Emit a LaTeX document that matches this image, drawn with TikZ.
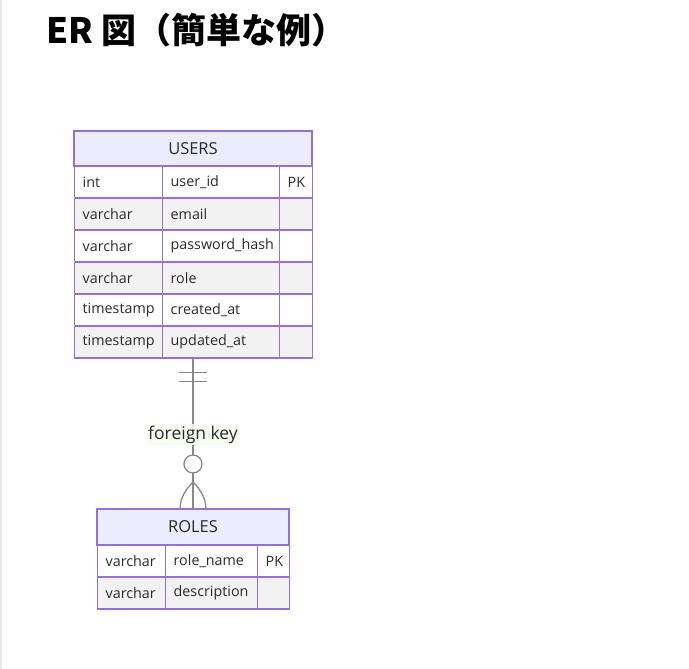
\documentclass[tikz,border=0pt]{standalone}
\usepackage{fontspec}
\setmainfont{Open Sans}
\newfontfamily\cjk{Noto Sans CJK JP}
\definecolor{erborder}{HTML}{9370DB}
\definecolor{erhead}{HTML}{ECECFF}
\definecolor{errow}{HTML}{F2F2F2}
\definecolor{erline}{HTML}{888888}
\definecolor{ertext}{HTML}{2A2A2A}
\definecolor{erlabel}{HTML}{F8FCEE}
\tikzset{
  cell/.style={draw=erborder,line width=1.4pt,fill=white,minimum height=32pt,
    inner xsep=8pt,align=left,anchor=west,text=ertext,font=\fontsize{14.3}{17}\selectfont},
  odd/.style={cell,fill=white},
  even/.style={cell,fill=errow},
  head/.style={draw=erborder,line width=1.4pt,fill=erhead,text=ertext,
    font=\fontsize{16.5}{19}\selectfont,inner sep=0pt},
  rel/.style={draw=erline,line width=1.3pt}
}
\begin{document}
\begin{tikzpicture}[x=1pt,y=-1pt]
      \useasboundingbox (0,0) rectangle (689,669);
      \draw[gray!18,line width=1.5pt] (1,0) -- (1,669);
      \node[anchor=base west,inner sep=0pt,font=\cjk\bfseries\fontsize{35}{40}\selectfont] (title) at (46,43.5) {ER 図（簡単な例）};
      % USERS
      \node[head,minimum width=238pt,minimum height=35pt] (users) at (193,148.5) {USERS};
      \draw
        (74,182) node[odd,text width=72pt] (u1t) {int}
        (162,182) node[odd,text width=101pt] (u1n) {user\_id}
        (279,182) node[odd,text width=17pt] (u1k) {PK}
        (74,214) node[even,text width=72pt] (u2t) {varchar}
        (162,214) node[even,text width=101pt] (u2n) {email}
        (279,214) node[even,text width=17pt] (u2k) {}
        (74,246) node[odd,text width=72pt] (u3t) {varchar}
        (162,246) node[odd,text width=101pt] (u3n) {password\_hash}
        (279,246) node[odd,text width=17pt] (u3k) {}
        (74,278) node[even,text width=72pt] (u4t) {varchar}
        (162,278) node[even,text width=101pt] (u4n) {role}
        (279,278) node[even,text width=17pt] (u4k) {}
        (74,310) node[odd,text width=72pt] (u5t) {timestamp}
        (162,310) node[odd,text width=101pt] (u5n) {created\_at}
        (279,310) node[odd,text width=17pt] (u5k) {}
        (74,342) node[even,text width=72pt] (u6t) {timestamp}
        (162,342) node[even,text width=101pt] (u6n) {updated\_at}
        (279,342) node[even,text width=17pt] (u6k) {};
      % ROLES
      \node[head,minimum width=192pt,minimum height=36pt] (roles) at (193,527) {ROLES};
      \draw
        (97,561) node[odd,text width=52pt] (r1t) {varchar}
        (165,561) node[odd,text width=76pt] (r1n) {role\_name}
        (257,561) node[odd,text width=16pt] (r1k) {PK}
        (97,593) node[even,text width=52pt] (r2t) {varchar}
        (165,593) node[even,text width=76pt] (r2n) {description}
        (257,593) node[even,text width=16pt] (r2k) {};
      % relation
      \coordinate (top) at (u6n.south -| users.south);
      \coordinate (bot) at (roles.north);
      \draw[rel] (top) -- (bot);
      \draw[rel] (179,372.5) -- (207,372.5) (179,381.5) -- (207,381.5);
      \node[circle,draw=erline,line width=1.3pt,fill=white,minimum size=18pt,inner sep=0pt] (circ) at (193,464) {};
      \draw[rel] (193,482) .. controls (200,489) and (206,498) .. (206,509)
                 (193,482) .. controls (186,489) and (180,498) .. (180,509);
      \node[fill=erlabel,fill opacity=0.85,text opacity=1,text=ertext,inner xsep=1pt,inner ysep=2pt,
        font=\fontsize{17.5}{20}\selectfont] (fk) at (193,434.5) {foreign key};
\end{tikzpicture}
\end{document}
